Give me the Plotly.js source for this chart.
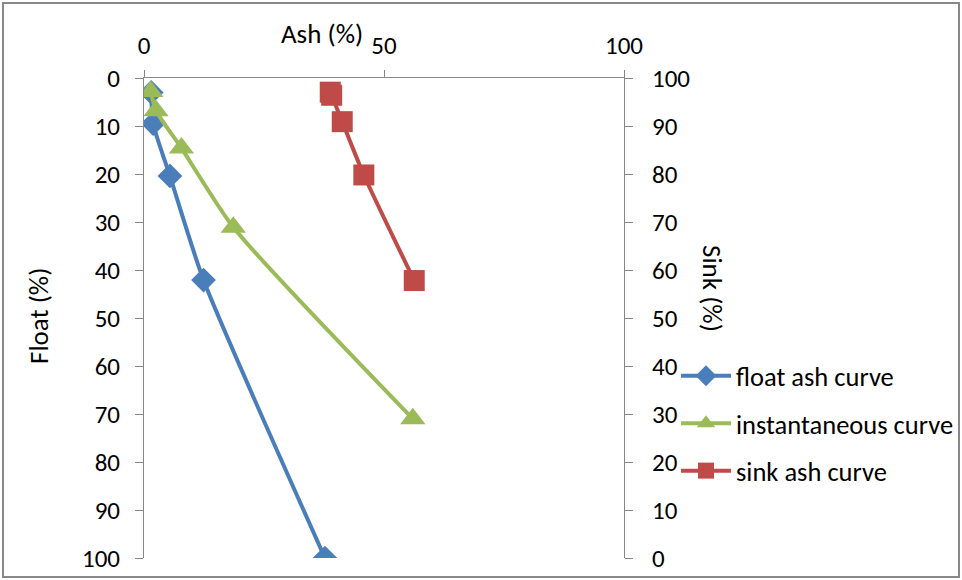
<!DOCTYPE html>
<html>
<head>
<meta charset="utf-8">
<script src="https://cdn.plot.ly/plotly-3.0.1.min.js"></script>
<style>
  html, body { margin: 0; padding: 0; background: #fff; }
  #chart { width: 962px; height: 580px; }
</style>
</head>
<body>
<div id="chart"></div>
<script>
// Washability curves: ash content against cumulative float / sink yield
const floatAsh      = [1.5, 1.9, 5.4, 12.4, 37.7];
const floatYield    = [3.0, 9.5, 20.4, 42.1, 100];

const instAsh       = [1.4, 2.5, 7.8, 18.6, 56.0];
const instYield     = [2.8, 6.8, 14.6, 31.1, 71.0];

const sinkAsh       = [38.8, 39.1, 41.3, 45.8, 56.3];
const sinkYield     = [97.05, 96.4, 90.9, 79.8, 57.8];

const seriesNames   = ['float ash curve', 'instantaneous curve', 'sink ash curve'];
const ashTicks      = [0, 50, 100];

const FONT = 'Carlito, Calibri, Lato, sans-serif';
const AXIS_GREY = '#868686';

// plot area in pixels
const W = 962, H = 580;
const L = 144, R = 624, T = 78, B = 558;
const pw = R - L, ph = B - T;
const px = v => (v - L) / pw;
const py = v => 1 - (v - T) / ph;

const traces = [
  {
    x: floatAsh, y: floatYield, name: seriesNames[0],
    type: 'scatter', mode: 'lines+markers', yaxis: 'y', legendgroup: 'a',
    line: { color: '#4A7EBB', width: 4, shape: 'spline', smoothing: 0.6 },
    marker: { symbol: 'diamond', size: 19, color: '#4A7EBB' }
  },
  {
    x: instAsh, y: instYield, name: seriesNames[1],
    type: 'scatter', mode: 'lines+markers', yaxis: 'y', legendgroup: 'b',
    line: { color: '#9BBB59', width: 4, shape: 'spline', smoothing: 0.6 },
    marker: { symbol: 'triangle-up', size: 22, color: '#9BBB59' }
  },
  {
    x: sinkAsh, y: sinkYield, name: seriesNames[2],
    type: 'scatter', mode: 'lines+markers', yaxis: 'y2', legendgroup: 'c',
    line: { color: '#BE4B48', width: 4, shape: 'spline', smoothing: 0.6 },
    marker: { symbol: 'square', size: 21, color: '#BE4B48' }
  }
];

const tickFont = { family: FONT, size: 25, color: '#000' };
const titleFont = { family: FONT, size: 27, color: '#000' };

const layout = {
  width: W, height: H,
  margin: { l: L, r: W - R, t: T, b: H - B, pad: 0, autoexpand: false },
  paper_bgcolor: '#fff', plot_bgcolor: '#fff',
  showlegend: true,
  legend: {
    x: px(676), y: py(352), xanchor: 'left', yanchor: 'top',
    font: { family: FONT, size: 26.5, color: '#000' },
    itemwidth: 50,
    tracegroupgap: 10, bgcolor: 'rgba(0,0,0,0)'
  },
  xaxis: {
    side: 'top', range: [0, 100], tickvals: ashTicks, ticktext: ashTicks.map(String),
    ticks: 'outside', ticklen: 7, tickcolor: AXIS_GREY, ticklabelstandoff: 6,
    showline: true, linecolor: AXIS_GREY, linewidth: 1,
    showgrid: false, zeroline: false, tickfont: tickFont, fixedrange: true
  },
  yaxis: {
    range: [100, 0], dtick: 10, ticks: 'outside', ticklen: 8, tickcolor: AXIS_GREY,
    ticklabelstandoff: 10,
    showline: true, linecolor: AXIS_GREY, linewidth: 1,
    showgrid: false, zeroline: false, tickfont: tickFont, fixedrange: true
  },
  yaxis2: {
    overlaying: 'y', side: 'right', range: [0, 100], dtick: 10,
    ticks: 'outside', ticklen: 8, tickcolor: AXIS_GREY, ticklabelstandoff: 14,
    showline: true, linecolor: AXIS_GREY, linewidth: 1,
    showgrid: false, zeroline: false, tickfont: tickFont, fixedrange: true
  },
  annotations: [
    { text: 'Ash (%)', xref: 'paper', yref: 'paper', x: px(322), y: py(33),
      xanchor: 'center', yanchor: 'middle',
      showarrow: false, font: titleFont },
    { text: 'Float (%)', xref: 'paper', yref: 'paper', x: px(38), y: py(316),
      xanchor: 'center', yanchor: 'middle',
      textangle: -90, showarrow: false, font: titleFont },
    { text: 'Sink (%)', xref: 'paper', yref: 'paper', x: px(713), y: py(288),
      xanchor: 'center', yanchor: 'middle',
      textangle: 90, showarrow: false, font: titleFont }
  ],
  shapes: [
    { type: 'rect', xref: 'paper', yref: 'paper', layer: 'below',
      x0: px(3), x1: px(959), y0: py(577), y1: py(3),
      line: { color: '#888888', width: 2 } }
  ]
};

Plotly.newPlot('chart', traces, layout, { displayModeBar: false, staticPlot: true });
</script>
</body>
</html>
